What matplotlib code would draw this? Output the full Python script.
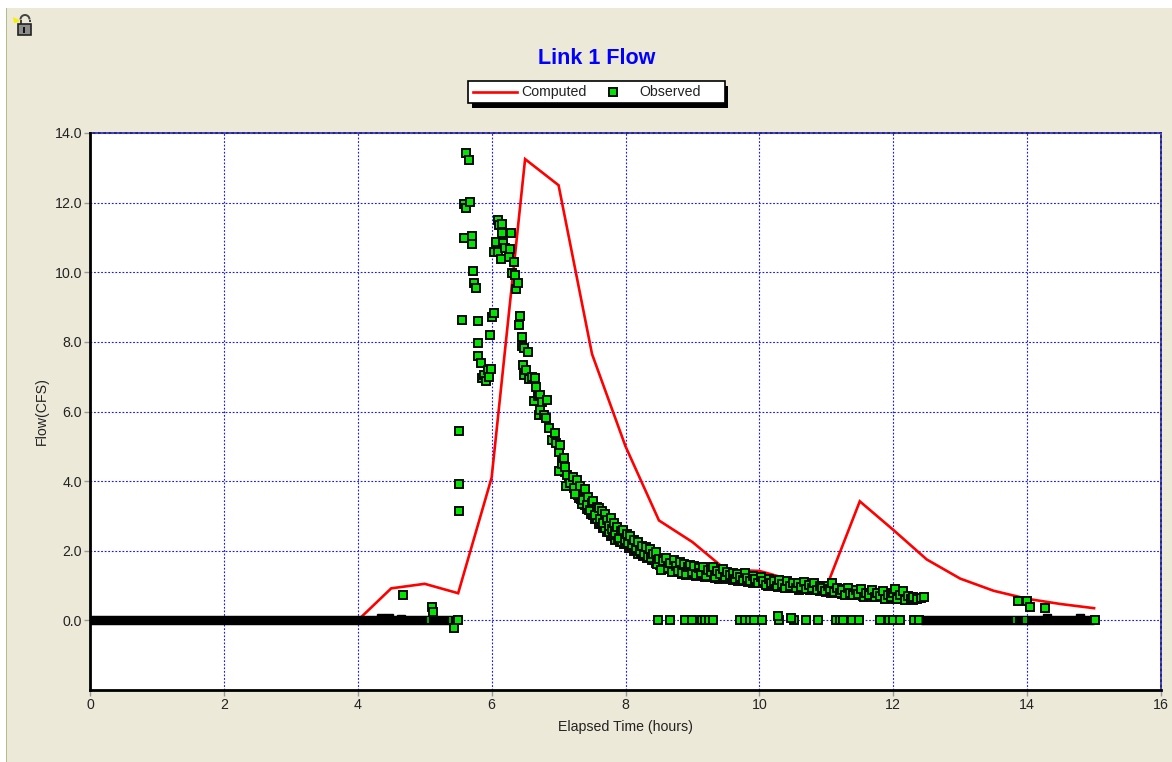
import matplotlib.pyplot as plt
from matplotlib.patches import Rectangle, Wedge, Polygon

plt.rcParams['font.family'] = ['Liberation Sans', 'DejaVu Sans']

# computed flow
comp_t = [4.0, 4.5, 5.0, 5.5, 6.0, 6.5, 7.0, 7.5, 8.0, 8.5, 9.0, 9.5, 10.0, 10.5, 11.0, 11.5, 12.0, 12.5, 13.0, 13.5, 14.0, 14.5, 15.0]
comp_f = [0.0, 0.92, 1.05, 0.78, 4.1, 13.25, 12.5, 7.65, 5.0, 2.87, 2.25, 1.45, 1.42, 1.15, 0.95, 3.42, 2.6, 1.75, 1.2, 0.85, 0.62, 0.47, 0.35]

# observed, first spike
spike_t = [5.51, 5.52, 5.52, 5.56, 5.58, 5.59, 5.62, 5.62, 5.66, 5.68, 5.70, 5.70, 5.72, 5.74, 5.77, 5.79, 5.80, 5.80, 5.84, 5.85, 5.88, 5.91, 5.95, 5.96, 5.98, 5.99, 6.00, 6.03]
spike_f = [3.13, 3.93, 5.44, 8.64, 10.97, 11.96, 11.84, 13.42, 13.22, 12.02, 11.05, 10.81, 10.03, 9.68, 9.56, 8.60, 7.98, 7.58, 7.38, 6.96, 7.06, 6.89, 7.18, 7.00, 8.21, 7.23, 8.71, 8.83]

# observed, second spike
peak_t = [6.03, 6.06, 6.09, 6.09, 6.11, 6.14, 6.16, 6.16, 6.17, 6.20, 6.26, 6.27, 6.29, 6.31, 6.33, 6.35, 6.37, 6.39]
peak_f = [10.58, 10.88, 10.58, 11.51, 11.36, 10.38, 11.39, 11.12, 10.85, 10.69, 10.45, 10.66, 11.12, 9.99, 10.30, 9.92, 9.52, 9.69]

# readings packed inside the recession limb, sit under the rest
dense_t = [7.05, 7.18, 7.10, 7.26, 7.15, 7.31, 7.21, 7.36, 7.29, 7.43, 7.34, 7.49, 7.40, 7.54, 7.46, 7.60, 7.51, 7.66, 7.58, 7.72, 7.63, 7.79, 7.69, 7.85, 7.76, 7.92, 7.82, 7.98, 7.89, 8.05, 7.95, 8.12, 8.01, 8.19, 8.08, 8.26, 8.16, 8.32, 8.23, 8.39, 8.29, 8.46, 8.35, 8.52, 8.43, 8.58, 8.49, 8.65, 8.55, 8.71,
           8.62, 8.77, 8.68, 8.84, 8.74, 8.91, 8.80, 8.98, 8.87, 9.05, 8.94, 9.12, 9.01, 9.19, 9.08, 9.26, 9.15, 9.33, 9.22, 9.40, 9.29, 9.47, 9.36, 9.54, 9.43, 9.61, 9.50, 9.68, 9.58, 9.75, 9.65, 9.83, 9.72, 9.90, 9.80, 9.97, 9.87, 10.05, 9.95, 10.13, 10.02, 10.20, 10.09, 10.28, 10.17, 10.35, 10.24, 10.43, 10.32, 10.51,
           10.40, 10.59, 10.48, 10.67, 10.56, 10.75, 10.64, 10.83, 10.72, 10.91, 10.80, 10.99, 10.88, 11.07, 10.96, 11.15, 11.04, 11.23, 11.12, 11.31, 11.20, 11.39, 11.28, 11.47, 11.36, 11.55, 11.44, 11.63, 11.52, 11.71, 11.60, 11.79, 11.68, 11.87, 11.76, 11.95, 11.84, 12.02, 11.92, 12.09, 12.00, 12.16, 12.07, 12.23, 12.13, 12.29, 12.20, 12.34, 12.27]
dense_f = [4.55, 4.05, 4.25, 3.72, 3.98, 3.52, 3.88, 3.42, 3.60, 3.20, 3.48, 3.05, 3.30, 2.92, 3.18, 2.78, 3.02, 2.65, 2.90, 2.55, 2.78, 2.42, 2.66, 2.32, 2.55, 2.25, 2.44, 2.18, 2.35, 2.08, 2.26, 2.00, 2.20, 1.92, 2.12, 1.85, 2.02, 1.80, 1.94, 1.72, 1.88, 1.64, 1.82, 1.58, 1.74, 1.52, 1.68, 1.48, 1.62, 1.44,
           1.58, 1.40, 1.55, 1.34, 1.50, 1.30, 1.46, 1.34, 1.42, 1.28, 1.46, 1.30, 1.40, 1.25, 1.38, 1.24, 1.34, 1.22, 1.36, 1.20, 1.30, 1.22, 1.28, 1.18, 1.32, 1.16, 1.24, 1.14, 1.26, 1.12, 1.20, 1.10, 1.24, 1.08, 1.18, 1.06, 1.20, 1.06, 1.14, 1.00, 1.12, 1.02, 1.10, 0.96, 1.08, 0.98, 1.04, 0.92, 1.06, 0.94,
           1.00, 0.88, 1.04, 0.90, 0.98, 0.86, 1.00, 0.88, 0.96, 0.84, 0.94, 0.82, 0.98, 0.80, 0.90, 0.82, 0.94, 0.76, 0.86, 0.80, 0.90, 0.72, 0.84, 0.76, 0.88, 0.70, 0.80, 0.74, 0.84, 0.68, 0.78, 0.72, 0.82, 0.64, 0.76, 0.68, 0.78, 0.62, 0.72, 0.66, 0.76, 0.60, 0.70, 0.64, 0.74, 0.58, 0.68, 0.62, 0.66]

# observed, recession limb
fall_t = [6.41, 6.43, 6.45, 6.45, 6.47, 6.49, 6.49, 6.51, 6.55, 6.56, 6.60, 6.63, 6.65, 6.67, 6.70, 6.71, 6.73, 6.73, 6.75, 6.78, 6.81, 6.83, 6.85, 6.90, 6.94, 6.96, 7.00, 7.01, 7.02, 7.05, 7.08, 7.10, 7.11, 7.12, 7.17, 7.22, 7.23, 7.25, 7.28, 7.32, 7.35, 7.37, 7.39, 7.42, 7.44, 7.47, 7.50, 7.52, 7.55, 7.57,
          7.60, 7.62, 7.65, 7.67, 7.70, 7.72, 7.75, 7.78, 7.80, 7.83, 7.85, 7.88, 7.91, 7.93, 7.97, 7.99, 8.02, 8.04, 8.07, 8.10, 8.13, 8.15, 8.18, 8.21, 8.24, 8.27, 8.30, 8.33, 8.36, 8.38, 8.41, 8.45, 8.47, 8.50, 8.53, 8.56, 8.60, 8.63, 8.66, 8.69, 8.72, 8.75, 8.78, 8.81, 8.85, 8.88, 8.90, 8.93, 8.96, 9.00]
fall_f = [8.48, 8.75, 8.13, 7.89, 7.35, 7.81, 7.06, 7.20, 7.71, 6.92, 6.99, 6.30, 6.96, 6.69, 6.44, 5.91, 6.47, 6.03, 6.26, 5.91, 5.80, 6.34, 5.53, 5.19, 5.37, 5.10, 4.83, 4.28, 5.05, 4.48, 4.66, 4.40, 3.85, 4.19, 3.95, 4.12, 3.79, 3.62, 4.02, 3.87, 3.35, 3.47, 3.78, 3.30, 3.55, 3.18, 3.38, 3.44, 3.02, 3.26,
          3.22, 2.92, 3.15, 2.80, 3.05, 2.88, 2.72, 2.95, 2.62, 2.80, 2.50, 2.68, 2.38, 2.58, 2.61, 2.30, 2.48, 2.22, 2.42, 2.16, 2.30, 2.08, 2.24, 1.98, 2.15, 1.90, 2.10, 1.82, 2.05, 1.78, 1.92, 1.97, 1.62, 1.75, 1.45, 1.70, 1.78, 1.50, 1.66, 1.40, 1.72, 1.55, 1.42, 1.68, 1.36, 1.62, 1.32, 1.52, 1.60, 1.38]

tail_t = [9.03, 9.06, 9.10, 9.13, 9.16, 9.20, 9.23, 9.27, 9.30, 9.34, 9.37, 9.41, 9.45, 9.48, 9.52, 9.56, 9.60, 9.63, 9.67, 9.71, 9.75, 9.78, 9.82, 9.86, 9.90, 9.94, 9.98, 10.02, 10.06, 10.10, 10.14, 10.18, 10.22, 10.26, 10.30, 10.34, 10.38, 10.42, 10.46, 10.50, 10.54, 10.58, 10.62, 10.66, 10.70, 10.74, 10.78, 10.82, 10.86, 10.90,
          10.94, 10.98, 11.02, 11.06, 11.08, 11.12, 11.16, 11.20, 11.24, 11.28, 11.32, 11.36, 11.40, 11.44, 11.48, 11.52, 11.56, 11.60, 11.64, 11.68, 11.72, 11.76, 11.80, 11.84, 11.88, 11.92, 11.96, 12.00, 12.03, 12.06, 12.10, 12.14, 12.18, 12.22, 12.26, 12.30, 12.36, 12.42, 12.46]
tail_f = [1.56, 1.30, 1.50, 1.36, 1.54, 1.28, 1.46, 1.38, 1.52, 1.26, 1.42, 1.34, 1.48, 1.24, 1.40, 1.30, 1.36, 1.20, 1.34, 1.26, 1.16, 1.36, 1.22, 1.12, 1.28, 1.18, 1.08, 1.24, 1.14, 1.02, 1.20, 1.08, 1.14, 0.98, 1.16, 1.04, 0.94, 1.12, 1.00, 1.08, 0.92, 1.06, 0.96, 1.10, 0.90, 1.02, 0.94, 1.06, 0.88, 1.00,
          0.92, 0.84, 1.00, 0.90, 1.06, 0.82, 0.94, 0.78, 0.88, 0.74, 0.92, 0.80, 0.72, 0.86, 0.76, 0.90, 0.68, 0.80, 0.74, 0.86, 0.66, 0.78, 0.70, 0.84, 0.62, 0.74, 0.66, 0.80, 0.91, 0.60, 0.72, 0.84, 0.58, 0.70, 0.62, 0.67, 0.60, 0.64, 0.67]

# observed, scattered readings
late_t = [4.67, 5.11, 5.13, 5.44, 13.87, 14.00, 14.05, 14.27]
late_f = [0.72, 0.39, 0.25, -0.21, 0.55, 0.55, 0.39, 0.35]

# single zero readings
zero_t = [8.49, 8.66, 8.89, 8.99, 9.14, 9.19, 9.25, 9.31, 9.71, 9.79, 9.86, 9.92, 10.04, 10.30, 10.52, 10.69, 10.87, 11.14, 11.20, 11.25, 11.38, 11.49, 11.80, 11.93, 12.00, 12.10, 12.31, 12.39]
near_zero_t = [10.28, 10.47]
near_zero_f = [0.12, 0.08]
zero_after_run = [5.50, 15.02]

# stretches where zero readings are packed solid (start, end hours)
zero_runs = [(0.0, 5.47), (12.42, 15.0)]
bump_t = [4.35, 4.47, 4.65, 14.29, 14.79]
bump_f = [0.08, 0.08, 0.04, 0.06, 0.07]
# readings that show through the solid stretches
slit_t = [5.05, 5.38, 13.80, 13.96, 13.99]

x_ticks = [0, 2, 4, 6, 8, 10, 12, 14, 16]
y_ticks = [0, 2, 4, 6, 8, 10, 12, 14]
y_labels = ['0.0', '2.0', '4.0', '6.0', '8.0', '10.0', '12.0', '14.0']

BEIGE = '#ECE9D8'
GREEN = '#00E600'
W, H = 1172, 762

fig = plt.figure(figsize=(W / 100, H / 100), dpi=100, facecolor='white')

# pixel overlay for the window background and lock
bg = fig.add_axes([0, 0, 1, 1], zorder=0)
bg.set_xlim(0, W)
bg.set_ylim(H, 0)
bg.axis('off')
bg.add_patch(Rectangle((7, 8), W - 7, H - 8, fc=BEIGE, ec='none'))
bg.add_patch(Rectangle((5.5, 8), 1.5, H - 8, fc='#B4BC8C', ec='none'))

# lock icon
bg.add_patch(Polygon([(13, 17), (19, 20), (19, 22), (14, 23)], fc='#F4F000', ec='none'))
bg.add_patch(Wedge((25, 19.5), 5.5, 180, 360, width=2, fc='#444444', ec='none'))
bg.add_patch(Rectangle((19.5, 19.5), 2, 4.5, fc='#444444', ec='none'))
bg.add_patch(Rectangle((28.5, 19.5), 2, 2.5, fc='#444444', ec='none'))
bg.add_patch(Rectangle((17.5, 24), 13, 10.5, fc='#8C8C8C', ec='#222222', lw=1.2))
bg.add_patch(Rectangle((23, 27), 2.2, 6, fc='#111111', ec='none'))

ax = fig.add_axes([90 / W, 1 - 690 / H, (1161 - 90) / W, (690 - 133) / H], zorder=1)
ax.set_facecolor('white')
ax.set_xlim(0, 16)
ax.set_ylim(-2, 14)
ax.set_xticks(x_ticks)
ax.set_yticks(y_ticks)
ax.set_yticklabels(y_labels)
ax.tick_params(axis='both', labelsize=10.2, length=4.3, width=1, color='#9A9A9A', labelcolor='#222222', pad=1.5)
ax.grid(True, color='#1818FF', linestyle=(0, (1.6, 1.6)), linewidth=0.8)
ax.set_axisbelow(True)
ax.spines['top'].set_color('#26265E')
ax.spines['right'].set_color('#26265E')
ax.spines['top'].set_linewidth(1.4)
ax.spines['right'].set_linewidth(1.4)
ax.spines['top'].set_zorder(1)
ax.spines['right'].set_zorder(1)
ax.spines['left'].set_linewidth(2)
ax.spines['bottom'].set_linewidth(2)
# blue dots running over the top and right frame
ax.axhline(14, color='#4A4AFF', linestyle=(0, (1.6, 1.6)), linewidth=1.2, clip_on=False, zorder=2)
ax.axvline(16, color='#4A4AFF', linestyle=(0, (1.6, 1.6)), linewidth=1.2, clip_on=False, zorder=2)

ax.set_xlabel('Elapsed Time (hours)', fontsize=10.2, labelpad=6, color='#222222')
ax.set_ylabel('Flow(CFS)', fontsize=10.2, labelpad=4, color='#222222')

ax.plot(comp_t, comp_f, color='#FF0000', lw=1.9, zorder=3, solid_joinstyle='miter')

mk = dict(linestyle='none', marker='s', ms=6.2, mfc=GREEN, mec='#0A0A0A', mew=1.4, zorder=4, clip_on=False)
zero_f = [0.0] * len(zero_t)
ax.plot(zero_t, zero_f, **mk)
ax.plot(near_zero_t, near_zero_f, **mk)
for start, end in zero_runs:
    ax.plot([start, end], [0, 0], color='black', lw=6.8, solid_capstyle='butt', zorder=4)
ax.plot(bump_t, bump_f, lw=0, marker='s', ms=6, mfc='black', mec='black', zorder=4)
ax.plot(slit_t, [0.0] * len(slit_t), lw=0, marker='|', ms=5, mew=1.1, color=GREEN, zorder=4)
ax.plot(zero_after_run, [0.0] * len(zero_after_run), **mk)
ax.plot(dense_t, dense_f, **mk)
ax.plot(spike_t, spike_f, **mk)
ax.plot(peak_t, peak_f, **mk)
ax.plot(fall_t, fall_f, **mk)
ax.plot(tail_t, tail_f, **mk)
ax.plot(late_t, late_f, **mk)

fig.text(597 / W, 1 - 58.5 / H, 'Link 1 Flow', color='#0000FF', fontsize=15.5, fontweight='bold', ha='center', va='center')

# legend box with hard shadow
leg = fig.add_axes([0, 0, 1, 1], zorder=2)
leg.set_xlim(0, W)
leg.set_ylim(H, 0)
leg.axis('off')
leg.add_patch(Rectangle((472, 86), 256, 22, fc='black', ec='none'))
leg.add_patch(Rectangle((467.5, 80.5), 257, 22, fc='white', ec='black', lw=1.2))
leg.plot([473, 517], [92, 92], color='#FF0000', lw=1.9)
leg.plot([613], [92], linestyle='none', marker='s', ms=6.2, mfc=GREEN, mec='#0A0A0A', mew=1.4)
leg.text(521, 92, 'Computed', fontsize=10.2, va='center', ha='left', color='#222222')
leg.text(639, 92, 'Observed', fontsize=10.2, va='center', ha='left', color='#222222')

fig.savefig('out.png', dpi=100, facecolor=fig.get_facecolor())
